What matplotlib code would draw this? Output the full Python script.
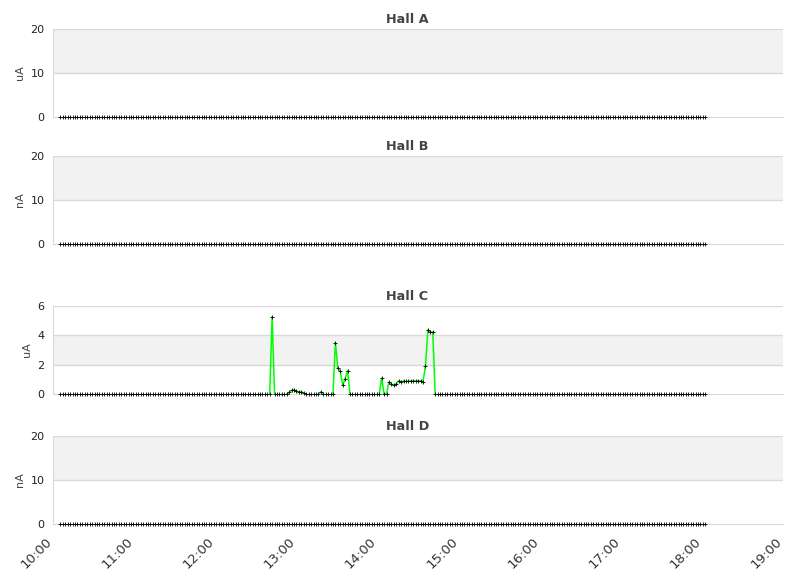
import numpy as np
import matplotlib
matplotlib.use("Agg")
import matplotlib.pyplot as plt
import matplotlib.transforms as mtransforms
from datetime import datetime, timedelta

# ---- data ----
halls = ["Hall A", "Hall B", "Hall C", "Hall D"]
units = ["uA", "nA", "uA", "nA"]
y_ticks = [[0, 10, 20], [0, 10, 20], [0, 2, 4, 6], [0, 10, 20]]
x_tick_labels = ["10:00", "11:00", "12:00", "13:00", "14:00", "15:00", "16:00", "17:00", "18:00", "19:00"]

start_time = datetime(2024, 1, 1, 10, 5, 30)
sample_seconds = 108
n_samples = 266

hall_a = np.zeros(n_samples)
hall_b = np.zeros(n_samples)
hall_d = np.zeros(n_samples)

# Hall C: readings from sample index 86 to 156, zero elsewhere
hall_c_first_index = 86
hall_c_window = [
    0, 5.27, 0, 0, 0, 0, 0, 0,
    0.12, 0.25, 0.30, 0.18, 0.15, 0.15, 0.07,
    0, 0, 0, 0, 0, 0,
    0.15,
    0, 0, 0, 0, 0,
    3.50, 1.75, 1.57, 0.59, 1.05, 1.60,
    0, 0, 0, 0, 0, 0, 0, 0, 0, 0, 0, 0, 0,
    1.09, 0, 0,
    0.82, 0.68, 0.59, 0.70, 0.89, 0.84, 0.89, 0.86, 0.86, 0.90,
    0.90, 0.90, 0.90, 0.90, 0.84, 1.89, 4.36, 4.23, 4.23,
    0, 0, 0,
]
hall_c = np.zeros(n_samples)
hall_c[hall_c_first_index:hall_c_first_index + len(hall_c_window)] = hall_c_window

series = [hall_a, hall_b, hall_c, hall_d]
times = [start_time + timedelta(seconds=sample_seconds * i) for i in range(n_samples)]

# ---- figure ----
W, H = 811, 578
fig = plt.figure(figsize=(W / 100, H / 100), dpi=100)
plt.rcParams["font.family"] = ["DejaVu Sans"]

left, right = 53, 783
boxes = [(29, 117), (156, 244), (306, 394), (436, 524)]

x_min = datetime(2024, 1, 1, 10, 0)
x_max = datetime(2024, 1, 1, 19, 0)
hour_ticks = [datetime(2024, 1, 1, 10 + i, 0) for i in range(len(x_tick_labels))]

grid_col = "#d9d9d9"
band_col = "#f2f2f2"


def line_values(vals):
    """Hide flat runs lying on the zero baseline (drawn under the axis)."""
    out = np.array(vals, dtype=float)
    n = len(out)
    for k in range(n):
        if vals[k] == 0:
            prev_nz = k > 0 and vals[k - 1] != 0
            next_nz = k < n - 1 and vals[k + 1] != 0
            if not (prev_nz or next_nz):
                out[k] = np.nan
    return out


title_x = (407.5 - left) / (right - left)

for i, (name, unit, yt, vals, (top, bot)) in enumerate(zip(halls, units, y_ticks, series, boxes)):
    ax = fig.add_axes([left / W, 1 - bot / H, (right - left) / W, (bot - top) / H])
    ax.set_xlim(x_min, x_max)
    ax.set_ylim(yt[0], yt[-1])
    for k in range(len(yt) - 1):
        if k % 2 == 1:
            ax.axhspan(yt[k], yt[k + 1], color=band_col, zorder=0, lw=0)
    for v in yt[1:]:
        ax.axhline(v, color=grid_col, lw=1, zorder=1)
    ax.plot(times, line_values(vals), color="#00ff00", lw=1.1, zorder=2)
    ax.plot(times, vals, ls="none", marker="+", ms=2.2, mew=0.6, color="black",
            zorder=4, clip_on=False)

    for s in ["top", "right"]:
        ax.spines[s].set_visible(False)
    ax.spines["left"].set_color(grid_col)
    ax.spines["bottom"].set_color(grid_col)
    ax.spines["bottom"].set_zorder(3)
    ax.set_yticks(yt)
    ax.set_yticklabels([str(v) for v in yt])
    ax.tick_params(axis="y", length=0, pad=6, labelsize=8, labelcolor="#222222")
    ax.set_xticks(hour_ticks)
    if i == len(halls) - 1:
        ax.set_xticklabels(x_tick_labels, rotation=45, ha="right", va="center",
                           rotation_mode="anchor")
        ax.tick_params(axis="x", length=0, pad=11, labelsize=9.5, labelcolor="#333333")
        shift = mtransforms.ScaledTranslation(-3 / 100, 0, fig.dpi_scale_trans)
        for lab in ax.get_xticklabels():
            lab.set_transform(lab.get_transform() + shift)
    else:
        ax.set_xticklabels([])
        ax.tick_params(axis="x", length=0)
    ax.set_ylabel(unit, fontsize=8, color="#444444", labelpad=4)
    ax.set_title(name, fontsize=9.2, fontweight="bold", color="#444444", pad=4, x=title_x)

fig.savefig("out.png", dpi=100)
